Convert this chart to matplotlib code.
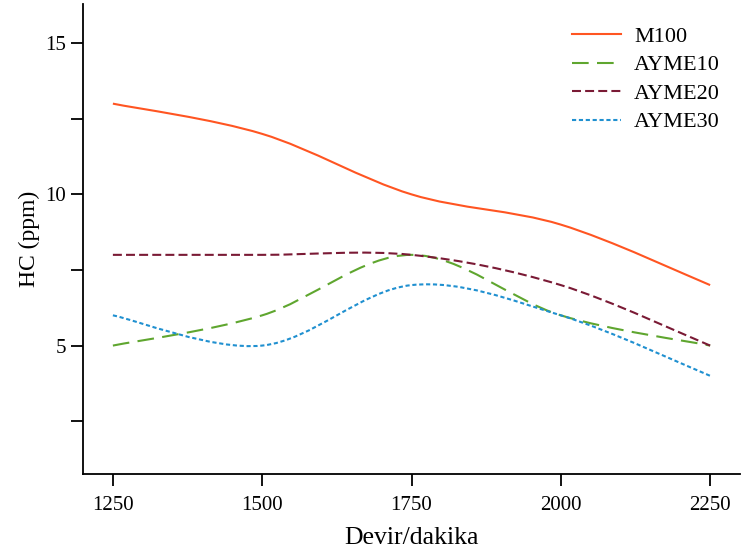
import numpy as np
import matplotlib
matplotlib.use('Agg')
import matplotlib.pyplot as plt
from matplotlib.path import Path
from matplotlib.patches import PathPatch
from matplotlib.lines import Line2D

plt.rcParams['font.family'] = ['Liberation Serif', 'DejaVu Serif']

rpm = [1250, 1500, 1750, 2000, 2250]
m100 = [13, 12, 10, 9, 7]
ayme10 = [5, 6, 8, 6, 5]
ayme20 = [8, 8, 8, 7, 5]
ayme30 = [6, 5, 7, 6, 4]

series = [
    ('M100', m100, '#FF5522', (None, None)),
    ('AYME10', ayme10, '#5FA62F', (0, (8, 4))),
    ('AYME20', ayme20, '#7A1A35', (0, (4.3, 2))),
    ('AYME30', ayme30, '#2090D0', (0, (2, 1.3))),
]


def smooth_path(x, y):
    # catmull-rom style bezier through the data points
    pts = np.column_stack([x, y]).astype(float)
    n = len(pts)
    verts = [pts[0]]
    codes = [Path.MOVETO]
    for i in range(n - 1):
        p0 = pts[i - 1] if i > 0 else pts[i]
        p1 = pts[i]
        p2 = pts[i + 1]
        p3 = pts[i + 2] if i + 2 < n else pts[i + 1]
        c1 = p1 + (p2 - p0) / 6
        c2 = p2 - (p3 - p1) / 6
        verts += [c1, c2, p2]
        codes += [Path.CURVE4] * 3
    return Path(verts, codes)


fig = plt.figure(figsize=(7.44, 5.5), dpi=100)
ax = fig.add_axes([0.1116, 0.138, 0.883, 0.855])

handles = []
for name, vals, col, ls in series:
    style = 'solid' if ls[0] is None else ls
    patch = PathPatch(smooth_path(rpm, vals), facecolor='none', edgecolor=col,
                      lw=1.5, linestyle=style)
    ax.add_patch(patch)
    handles.append(Line2D([], [], color=col, lw=1.5, linestyle=style, label=name))

ax.set_xlim(1200, 2300)
ax.set_ylim(0.75, 16.3)
ax.set_xticks(rpm)
ax.set_yticks([5, 10, 15])
ax.set_yticks([2.5, 7.5, 12.5], minor=True)
ax.tick_params(axis='both', which='both', direction='out', length=8.5, width=1.3,
               labelsize=15, colors='black')
ax.tick_params(axis='x', pad=7)
for s in ['top', 'right']:
    ax.spines[s].set_visible(False)
for s in ['left', 'bottom']:
    ax.spines[s].set_linewidth(1.3)

ax.set_xlabel('Devir/dakika', fontsize=18.5, labelpad=9)
ax.set_ylabel('HC (ppm)', fontsize=17)

ax.legend(handles=handles, loc='upper right', frameon=False, fontsize=16,
          handlelength=2.2, handletextpad=0.6, labelspacing=0.36,
          bbox_to_anchor=(1.0, 0.995))

fig.savefig('out.png', dpi=100)
